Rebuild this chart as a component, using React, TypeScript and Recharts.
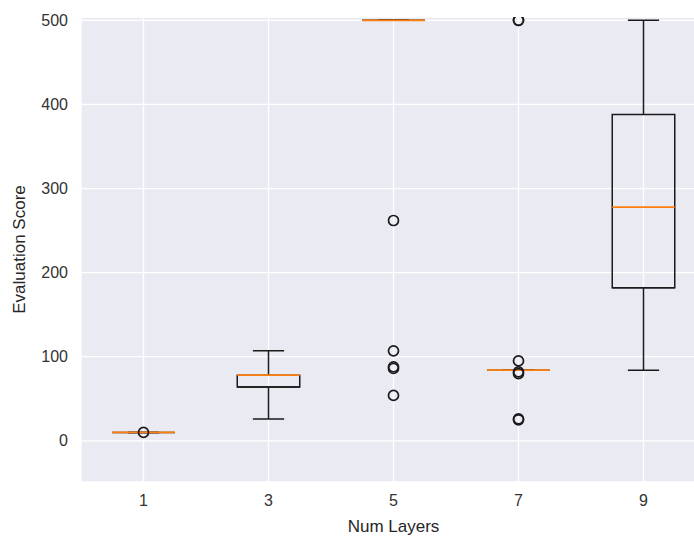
import React from "react";
import {
  ScatterChart, Scatter, XAxis, YAxis, CartesianGrid,
  ReferenceArea, ReferenceLine,
} from "recharts";

/* one box per layer count */
const LAYERS = [1, 3, 5, 7, 9];
const WHISKER_LOW = [10, 26, 500, 84, 84];
const Q1 = [10, 64, 500, 84, 182];
const MEDIAN = [10, 78, 500, 84, 278];
const Q3 = [10, 78, 500, 84, 388];
const WHISKER_HIGH = [10, 107, 500, 84, 500];
const FLIERS = [
  [10],
  [],
  [262, 107, 88, 86, 54],
  [500, 500, 95, 82, 80, 26, 25],
  [],
];
const Y_TICKS = [0, 100, 200, 300, 400, 500];

const BOX_HALF = 0.5;
const CAP_HALF = 0.25;
const LINE = "#1a1a1a";
const ORANGE = "#ff7f0e";
const FONT = "'Liberation Sans', Arial, sans-serif";

const flierPoints = FLIERS.flatMap((vals, i) => vals.map((y) => ({ x: LAYERS[i], y })));

const Ring = (props: any) => (
  <circle cx={props.cx} cy={props.cy} r={5} fill="none" stroke={LINE} strokeWidth={1.7} />
);

export default function App() {
  return (
    <div style={{ position: "absolute", left: 0, top: 0, width: 694, height: 538, overflow: "hidden", background: "#fff" }}>
      <ScatterChart width={706} height={538} margin={{ top: 17, right: 0, bottom: 0, left: 0 }}>
        <CartesianGrid fill="#eaeaf2" stroke="#ffffff" strokeWidth={1.3} />
        <XAxis type="number" dataKey="x" domain={[0, 10]} ticks={LAYERS} height={56}
          axisLine={false} tickLine={false} tickSize={0} tickMargin={13}
          tick={{ fill: "#333", fontSize: 16, fontFamily: FONT }}
          label={{ value: "Num Layers", position: "insideBottom", offset: 6, fill: "#262626", fontSize: 17, fontFamily: FONT }} />
        <YAxis type="number" dataKey="y" domain={[-49, 504]} ticks={Y_TICKS} width={81}
          allowDataOverflow axisLine={false} tickLine={false} tickSize={0} tickMargin={13}
          tick={{ fill: "#333", fontSize: 16, fontFamily: FONT }}
          label={{ value: "Evaluation Score", angle: -90, position: "insideLeft", offset: 19,
            fill: "#262626", fontSize: 17, fontFamily: FONT, style: { textAnchor: "middle" } }} />
        {LAYERS.map((x, i) => (
          <React.Fragment key={x}>
            <ReferenceLine segment={[{ x, y: Q3[i] }, { x, y: WHISKER_HIGH[i] }]} stroke={LINE} strokeWidth={1.5} />
            <ReferenceLine segment={[{ x, y: WHISKER_LOW[i] }, { x, y: Q1[i] }]} stroke={LINE} strokeWidth={1.5} />
            <ReferenceLine segment={[{ x: x - CAP_HALF, y: WHISKER_HIGH[i] }, { x: x + CAP_HALF, y: WHISKER_HIGH[i] }]} stroke={LINE} strokeWidth={1.5} />
            <ReferenceLine segment={[{ x: x - CAP_HALF, y: WHISKER_LOW[i] }, { x: x + CAP_HALF, y: WHISKER_LOW[i] }]} stroke={LINE} strokeWidth={1.5} />
            <ReferenceArea x1={x - BOX_HALF} x2={x + BOX_HALF} y1={Q1[i]} y2={Q3[i]}
              fill="none" fillOpacity={0} stroke={LINE} strokeWidth={1.5} strokeOpacity={1} />
            <ReferenceLine segment={[{ x: x - BOX_HALF, y: Q1[i] }, { x: x + BOX_HALF, y: Q1[i] }]} stroke={LINE} strokeWidth={1.5} />
            <ReferenceLine segment={[{ x: x - BOX_HALF, y: MEDIAN[i] }, { x: x + BOX_HALF, y: MEDIAN[i] }]} stroke={ORANGE} strokeWidth={1.7} />
          </React.Fragment>
        ))}
        <Scatter data={flierPoints} shape={Ring} isAnimationActive={false} />
      </ScatterChart>
    </div>
  );
}
